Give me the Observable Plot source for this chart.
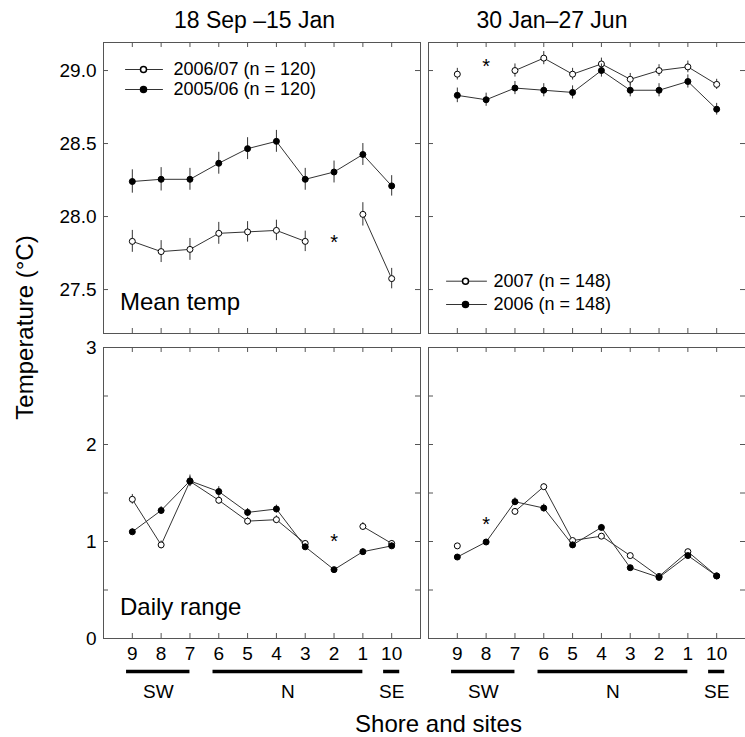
<!DOCTYPE html>
<html><head><meta charset="utf-8">
<script src="https://cdn.jsdelivr.net/npm/d3@7"></script>
<script src="https://cdn.jsdelivr.net/npm/@observablehq/plot@0.6"></script>
<style>
body{margin:0;background:#fff;}
#chart{position:relative;width:745px;height:737px;overflow:hidden;background:#fff;}
#chart svg{position:absolute;left:0;top:0;}
</style></head><body><div id="chart"></div>
<script>
// ---- data ----
const sites = ["9","8","7","6","5","4","3","2","1","10"];
const shores = [
  {name: "SW", first: "9", last: "7"},
  {name: "N", first: "6", last: "1"},
  {name: "SE", first: "10", last: "10"}
];
const periods = ["18 Sep \u201315 Jan", "30 Jan\u201327 Jun"];
const rowLabels = ["Mean temp", "Daily range"];
const yTitle = "Temperature (\u00b0C)";
const xTitle = "Shore and sites";

const legendSepJan = ["2006/07 (n = 120)", "2005/06 (n = 120)"];
const legendJanJun = ["2007 (n = 148)", "2006 (n = 148)"];

// Mean temperature, 18 Sep - 15 Jan
const meanSepJan0607 = [27.83, 27.76, 27.775, 27.885, 27.895, 27.905, 27.83, null, 28.015, 27.575];
const meanSepJan0607Err = [0.075, 0.075, 0.075, 0.075, 0.07, 0.07, 0.07, null, 0.08, 0.07];
const meanSepJan0506 = [28.24, 28.255, 28.255, 28.365, 28.465, 28.515, 28.255, 28.305, 28.425, 28.21];
const meanSepJan0506Err = [0.08, 0.08, 0.075, 0.075, 0.075, 0.075, 0.075, 0.075, 0.075, 0.07];
// Mean temperature, 30 Jan - 27 Jun
const meanJanJun2007 = [28.975, null, 29.0, 29.085, 28.975, 29.045, 28.94, 29.0, 29.025, 28.905];
const meanJanJun2007Err = [0.04, null, 0.045, 0.045, 0.04, 0.04, 0.04, 0.04, 0.04, 0.035];
const meanJanJun2006 = [28.83, 28.80, 28.88, 28.865, 28.85, 29.0, 28.865, 28.865, 28.925, 28.735];
const meanJanJun2006Err = [0.05, 0.045, 0.045, 0.045, 0.045, 0.045, 0.045, 0.045, 0.045, 0.04];
// Daily range, 18 Sep - 15 Jan
const rangeSepJan0607 = [1.435, 0.965, 1.62, 1.425, 1.21, 1.225, 0.98, null, 1.155, 0.98];
const rangeSepJan0607Err = [0.05, 0.04, 0.05, 0.04, 0.04, 0.04, 0.03, null, 0.04, 0.03];
const rangeSepJan0506 = [1.10, 1.32, 1.625, 1.515, 1.30, 1.335, 0.945, 0.71, 0.895, 0.955];
const rangeSepJan0506Err = [0.03, 0.04, 0.06, 0.05, 0.04, 0.04, 0.03, 0.02, 0.03, 0.03];
// Daily range, 30 Jan - 27 Jun
const rangeJanJun2007 = [0.955, null, 1.31, 1.565, 1.01, 1.055, 0.855, 0.64, 0.895, 0.645];
const rangeJanJun2007Err = [0.02, null, 0.03, 0.03, 0.02, 0.02, 0.02, 0.02, 0.02, 0.02];
const rangeJanJun2006 = [0.84, 0.995, 1.41, 1.345, 0.965, 1.145, 0.73, 0.63, 0.855, 0.645];
const rangeJanJun2006Err = [0.02, 0.02, 0.04, 0.04, 0.03, 0.03, 0.02, 0.02, 0.02, 0.02];

// significance stars: site and y value
const starMeanSepJan = {site: "2", y: 27.85};
const starMeanJanJun = {site: "8", y: 29.057};
const starRangeSepJan = {site: "2", y: 1.038};
const starRangeJanJun = {site: "8", y: 1.216};

const meanTicks = [27.5, 28.0, 28.5, 29.0];
const rangeTicks = [0, 0.5, 1, 1.5, 2, 2.5, 3];
const rangeLabelTicks = [0, 1, 2, 3];

// ---- drawing ----
const W = 745, H = 737;
const FONT = '"Liberation Sans", Arial, Helvetica, sans-serif';
const INK = "#333";
const FRAME = "#555";
const idx = d3.range(sites.length);
const chart = document.getElementById("chart");

function rows(values, errs) {
  return values.map((v, i) => ({i, v: v == null ? NaN : v, e: errs[i] == null ? 0 : errs[i]}));
}

function panel(o) {
  const fw = o.right - o.left, fh = o.bottom - o.top;
  const marks = [
    Plot.frame({stroke: FRAME, strokeWidth: 1}),
    Plot.tickY(o.yTicks, {y: d => d, insetRight: fw - 5, stroke: FRAME}),
    Plot.tickY(o.yTicks, {y: d => d, insetLeft: fw - 5, stroke: FRAME}),
    Plot.tickX(idx, {x: d => d, insetBottom: fh - 5, stroke: FRAME}),
    Plot.tickX(idx, {x: d => d, insetTop: fh - 5, stroke: FRAME})
  ];
  if (o.yLabels) marks.push(Plot.axisY({ticks: o.yLabels, tickSize: 0, tickPadding: 7, tickFormat: o.yFormat, fontSize: 19, label: null}));
  if (o.xLabels) {
    marks.push(Plot.axisX({ticks: idx, tickSize: 0, tickPadding: 8, tickFormat: i => sites[i], fontSize: 19, label: null}));
    const y0 = o.yDomain[0];
    const span = d => {
      const a = sites.indexOf(d.first), b = sites.indexOf(d.last);
      return a === b ? [a - 0.28, b + 0.28] : [a - 0.2, b];
    };
    marks.push(Plot.ruleY(shores, {x1: d => span(d)[0], x2: d => span(d)[1], y: y0, dy: 33, stroke: "black", strokeWidth: 3.5}));
    marks.push(Plot.text(shores, {x: d => (span(d)[0] + span(d)[1]) / 2, y: y0, dy: 53, text: "name", fontSize: 19, fill: "black", textAnchor: "middle", lineAnchor: "middle"}));
  }
  for (const s of o.series) {
    const data = rows(s.values, s.errs);
    marks.push(Plot.ruleX(data, {x: "i", y1: d => d.v - d.e, y2: d => d.v + d.e, stroke: INK, strokeWidth: 1}));
    marks.push(Plot.line(data, {x: "i", y: "v", stroke: INK, strokeWidth: 1}));
    marks.push(Plot.dot(data, {x: "i", y: "v", r: 3, fill: s.filled ? "black" : "white", stroke: "black", strokeWidth: 1}));
  }
  marks.push(Plot.text([o.star], {x: d => sites.indexOf(d.site), y: "y", text: () => "*", fontSize: 20, dy: 4, fill: "black", textAnchor: "middle", lineAnchor: "middle"}));
  if (o.legend) {
    const L = o.legend;
    L.labels.forEach((lab, k) => {
      const dy = L.rows[k];
      marks.push(Plot.vector([lab], {frameAnchor: "top-left", dx: L.x0, dy, rotate: 90, length: L.len, anchor: "start", stroke: INK, strokeWidth: 1,
        shape: {draw(ctx, l) { ctx.moveTo(0, 0); ctx.lineTo(0, -l); }}}));
      marks.push(Plot.dot([lab], {frameAnchor: "top-left", dx: L.xm, dy, r: 3, fill: o.series[k].filled ? "black" : "white", stroke: "black"}));
      marks.push(Plot.text([lab], {frameAnchor: "top-left", dx: L.xt, dy, textAnchor: "start", lineAnchor: "middle", fontSize: 18, fill: "black"}));
    });
  }
  if (o.label) marks.push(Plot.text([o.label], {frameAnchor: "bottom-left", dx: 16.5, dy: -30.7, textAnchor: "start", lineAnchor: "middle", fontSize: 24, fill: "black"}));
  if (o.title) marks.push(Plot.text([o.title], {frameAnchor: "top", dx: o.titleDx, dy: -21.4, textAnchor: "middle", lineAnchor: "middle", fontSize: 23, fill: "black"}));
  const svg = Plot.plot({
    width: W, height: H,
    marginLeft: o.left, marginRight: W - o.right, marginTop: o.top, marginBottom: H - o.bottom,
    x: {domain: [-1, sites.length], axis: null},
    y: {domain: o.yDomain, axis: null},
    style: {fontFamily: FONT, background: "transparent", overflow: "visible", color: "black"},
    marks
  });
  chart.appendChild(svg);
}

const LX = 103, LR = 420, RX = 428, RR = 745;
const TT = 42, TB = 333, BT = 347, BB = 638;
const meanDomain = [27.199, 29.192];
const rangeDomain = [0, 3];

panel({left: LX, right: LR, top: TT, bottom: TB, yDomain: meanDomain, yTicks: meanTicks, yLabels: meanTicks, yFormat: d3.format(".1f"),
  series: [
    {values: meanSepJan0607, errs: meanSepJan0607Err, filled: false},
    {values: meanSepJan0506, errs: meanSepJan0506Err, filled: true}
  ],
  star: starMeanSepJan,
  legend: {labels: legendSepJan, rows: [27, 47], x0: 22, len: 37, xm: 40, xt: 70},
  label: rowLabels[0], title: periods[0], titleDx: -7.5});

panel({left: RX, right: RR, top: TT, bottom: TB, yDomain: meanDomain, yTicks: meanTicks,
  series: [
    {values: meanJanJun2007, errs: meanJanJun2007Err, filled: false},
    {values: meanJanJun2006, errs: meanJanJun2006Err, filled: true}
  ],
  star: starMeanJanJun,
  legend: {labels: legendJanJun, rows: [238.7, 262], x0: 18, len: 40, xm: 37, xt: 65},
  title: periods[1], titleDx: -35});

panel({left: LX, right: LR, top: BT, bottom: BB, yDomain: rangeDomain, yTicks: rangeTicks, yLabels: rangeLabelTicks, yFormat: d3.format("d"),
  xLabels: true,
  series: [
    {values: rangeSepJan0607, errs: rangeSepJan0607Err, filled: false},
    {values: rangeSepJan0506, errs: rangeSepJan0506Err, filled: true}
  ],
  star: starRangeSepJan, label: rowLabels[1]});

panel({left: RX, right: RR, top: BT, bottom: BB, yDomain: rangeDomain, yTicks: rangeTicks,
  xLabels: true,
  series: [
    {values: rangeJanJun2007, errs: rangeJanJun2007Err, filled: false},
    {values: rangeJanJun2006, errs: rangeJanJun2006Err, filled: true}
  ],
  star: starRangeJanJun});

// axis titles overlay
chart.appendChild(Plot.plot({
  width: W, height: H, margin: 0,
  style: {fontFamily: FONT, background: "transparent", overflow: "visible"},
  marks: [
    Plot.text([yTitle], {frameAnchor: "top-left", dx: 24.5, dy: 327, rotate: -90, textAnchor: "middle", lineAnchor: "middle", fontSize: 24, fill: "black"}),
    Plot.text([xTitle], {frameAnchor: "top-left", dx: 438, dy: 723.8, textAnchor: "middle", lineAnchor: "middle", fontSize: 24, fill: "black"})
  ]
}));
</script></body></html>
